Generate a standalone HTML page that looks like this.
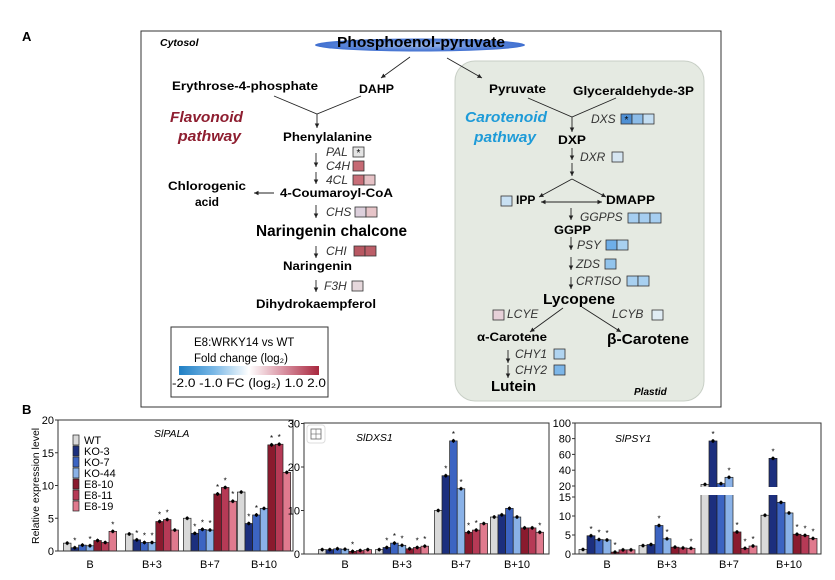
<!DOCTYPE html>
<html><head><meta charset="utf-8"><style>
html,body{margin:0;padding:0;background:#fff}
svg{display:block;font-family:"Liberation Sans",Arial,sans-serif}
.b{font-weight:bold}
.i{font-style:italic}
</style></head><body>
<svg id="s" width="835" height="580" viewBox="0 0 835 580" xmlns="http://www.w3.org/2000/svg">
<defs>
<radialGradient id="ell" cx="50%" cy="50%" r="50%"><stop offset="0" stop-color="#9ab8ec"/><stop offset="1" stop-color="#3f6fd0"/></radialGradient>
<linearGradient id="lg" x1="0" x2="1"><stop offset="0" stop-color="#1f7fc4"/><stop offset="0.25" stop-color="#7ab8e6"/><stop offset="0.5" stop-color="#ffffff"/><stop offset="0.75" stop-color="#d890a0"/><stop offset="1" stop-color="#a8283e"/></linearGradient>
<marker id="ar" markerWidth="6" markerHeight="6" refX="5" refY="3" orient="auto"><path d="M0,0.5 L5,3 L0,5.5 z" fill="#222"/></marker>
<marker id="al" markerWidth="6" markerHeight="6" refX="1" refY="3" orient="auto"><path d="M6,0.5 L1,3 L6,5.5 z" fill="#222"/></marker>
</defs>
<text x="22" y="41" class="b" font-size="13">A</text>
<rect x="141" y="31" width="580" height="376" fill="none" stroke="#333" stroke-width="1"/>
<rect x="455" y="61" width="249" height="340" rx="20" fill="#e5eae2" stroke="#c8cfc6"/>
<text x="160" y="46" class="b i" font-size="10.5">Cytosol</text>
<ellipse cx="420" cy="45" rx="105" ry="6.5" fill="url(#ell)"/>
<text x="337" y="47" class="b" font-size="14.5" textLength="168" lengthAdjust="spacingAndGlyphs">Phosphoenol-pyruvate</text>
<g stroke="#222" stroke-width="0.9" fill="none">
<line x1="410" y1="57" x2="381" y2="78" marker-end="url(#ar)"/>
<line x1="447" y1="58" x2="482" y2="78" marker-end="url(#ar)"/>
<polyline points="274,96 317,114 361,96"/>
<line x1="317" y1="114" x2="317" y2="128" marker-end="url(#ar)"/>
<line x1="316" y1="153" x2="316" y2="167" marker-end="url(#ar)"/>
<line x1="316" y1="172" x2="316" y2="184" marker-end="url(#ar)"/>
<line x1="274" y1="193" x2="254" y2="193" marker-end="url(#ar)"/>
<line x1="316" y1="205" x2="316" y2="218" marker-end="url(#ar)"/>
<line x1="316" y1="246" x2="316" y2="258" marker-end="url(#ar)"/>
<line x1="316" y1="280" x2="316" y2="292" marker-end="url(#ar)"/>
<polyline points="528,98 572,117 616,98"/>
<line x1="572" y1="117" x2="572" y2="132" marker-end="url(#ar)"/>
<line x1="572" y1="148" x2="572" y2="160" marker-end="url(#ar)"/>
<line x1="572" y1="163" x2="572" y2="176" marker-end="url(#ar)"/>
<line x1="572" y1="179" x2="539" y2="197" marker-end="url(#ar)"/>
<line x1="572" y1="179" x2="606" y2="197" marker-end="url(#ar)"/>
<line x1="541" y1="202" x2="602" y2="202" marker-start="url(#al)" marker-end="url(#ar)"/>
<line x1="571" y1="208" x2="571" y2="220" marker-end="url(#ar)"/>
<line x1="571" y1="237" x2="571" y2="250" marker-end="url(#ar)"/>
<line x1="571" y1="257" x2="571" y2="270" marker-end="url(#ar)"/>
<line x1="571" y1="277" x2="571" y2="289" marker-end="url(#ar)"/>
<line x1="563" y1="308" x2="530" y2="332" marker-end="url(#ar)"/>
<line x1="582" y1="307" x2="621" y2="332" marker-end="url(#ar)"/>
<line x1="508" y1="350" x2="508" y2="363" marker-end="url(#ar)"/>
<line x1="508" y1="365" x2="508" y2="378" marker-end="url(#ar)"/>
</g>
<g font-size="12" class="b">
<text x="172" y="90" textLength="146" lengthAdjust="spacingAndGlyphs">Erythrose-4-phosphate</text>
<text x="359" y="93" textLength="35" lengthAdjust="spacingAndGlyphs">DAHP</text>
<text x="283" y="141" textLength="89" lengthAdjust="spacingAndGlyphs">Phenylalanine</text>
<text x="280" y="197" textLength="113" lengthAdjust="spacingAndGlyphs">4-Coumaroyl-CoA</text>
<text x="168" y="190" textLength="78" lengthAdjust="spacingAndGlyphs">Chlorogenic</text>
<text x="195" y="206">acid</text>
<text x="283" y="270" textLength="69" lengthAdjust="spacingAndGlyphs">Naringenin</text>
<text x="256" y="308" textLength="120" lengthAdjust="spacingAndGlyphs">Dihydrokaempferol</text>
<text x="489" y="93" textLength="57" lengthAdjust="spacingAndGlyphs">Pyruvate</text>
<text x="573" y="95" textLength="121" lengthAdjust="spacingAndGlyphs">Glyceraldehyde-3P</text>
<text x="558" y="144" textLength="28" lengthAdjust="spacingAndGlyphs">DXP</text>
<text x="516" y="204">IPP</text>
<text x="606" y="204" textLength="49" lengthAdjust="spacingAndGlyphs">DMAPP</text>
<text x="554" y="234" textLength="37" lengthAdjust="spacingAndGlyphs">GGPP</text>
<text x="477" y="341" textLength="70" lengthAdjust="spacingAndGlyphs">α-Carotene</text>
</g>
<text x="256" y="236" class="b" font-size="15.5" textLength="151" lengthAdjust="spacingAndGlyphs">Naringenin chalcone</text>
<text x="543" y="304" class="b" font-size="14.5" textLength="72" lengthAdjust="spacingAndGlyphs">Lycopene</text>
<text x="607" y="344" class="b" font-size="15" textLength="82" lengthAdjust="spacingAndGlyphs">β-Carotene</text>
<text x="491" y="391" class="b" font-size="14.5" textLength="45" lengthAdjust="spacingAndGlyphs">Lutein</text>
<text x="634" y="395" class="b i" font-size="10">Plastid</text>
<g class="b i" font-size="15">
<text x="170" y="122" fill="#8e1e30" textLength="73" lengthAdjust="spacingAndGlyphs">Flavonoid</text>
<text x="178" y="141" fill="#8e1e30" textLength="63" lengthAdjust="spacingAndGlyphs">pathway</text>
<text x="465" y="122" fill="#1e9bd8" textLength="82" lengthAdjust="spacingAndGlyphs">Carotenoid</text>
<text x="474" y="142" fill="#1e9bd8" textLength="62" lengthAdjust="spacingAndGlyphs">pathway</text>
</g>
<g class="i" font-size="12" fill="#333">
<text x="326" y="156">PAL</text>
<text x="326" y="170">C4H</text>
<text x="326" y="184">4CL</text>
<text x="326" y="216">CHS</text>
<text x="326" y="255">CHI</text>
<text x="324" y="290">F3H</text>
<text x="591" y="123">DXS</text>
<text x="580" y="161">DXR</text>
<text x="580" y="221">GGPPS</text>
<text x="577" y="249">PSY</text>
<text x="576" y="268">ZDS</text>
<text x="576" y="285">CRTISO</text>
<text x="507" y="318">LCYE</text>
<text x="612" y="318">LCYB</text>
<text x="515" y="358">CHY1</text>
<text x="515" y="374">CHY2</text>
</g>
<g stroke="#333" stroke-width="0.8" id="hm"></g>
<rect x="171" y="327" width="157" height="70" fill="#fff" stroke="#333"/>
<text x="194" y="346" font-size="11.5">E8:WRKY14 vs WT</text>
<text x="194" y="362" font-size="11.5">Fold change (log₂)</text>
<rect x="179" y="366" width="140" height="9" fill="url(#lg)"/>
<text x="172" y="387" font-size="11.5" textLength="154" lengthAdjust="spacingAndGlyphs">-2.0 -1.0 FC (log₂) 1.0 2.0</text>

<text x="22" y="414" class="b" font-size="13">B</text>
<text transform="translate(39,544) rotate(-90)" font-size="10.5">Relative expression level</text>
<g id="charts"></g>
<text x="154" y="437" class="i" font-size="10.5">SlPALA</text>
<text x="356" y="441" class="i" font-size="10.5">SlDXS1</text>
<text x="615" y="442" class="i" font-size="10.5">SlPSY1</text>
<g id="leg" font-size="11">
<text x="84" y="444">WT</text><text x="84" y="455">KO-3</text><text x="84" y="466">KO-7</text><text x="84" y="477">KO-44</text><text x="84" y="488">E8-10</text><text x="84" y="499">E8-11</text><text x="84" y="510">E8-19</text>
</g>
<rect x="307" y="425" width="18" height="18" rx="3" fill="#fff" stroke="#ddd"/>
<rect x="311" y="429" width="10" height="10" fill="none" stroke="#666" stroke-width="0.8"/>
<line x1="311" y1="434" x2="321" y2="434" stroke="#666" stroke-width="0.6"/>
<line x1="316" y1="429" x2="316" y2="439" stroke="#666" stroke-width="0.6"/>
</svg>
<script>
var NS="http://www.w3.org/2000/svg",S=document.getElementById('s');
function el(t,a,p){var e=document.createElementNS(NS,t);for(var k in a)e.setAttribute(k,a[k]);(p||S).appendChild(e);return e;}
function tx(x,y,s,a,p){var e=el('text',Object.assign({x:x,y:y,'font-size':10.5},a||{}),p);e.textContent=s;return e;}
var hm=document.getElementById('hm');
function sq(x,y,cols,star){cols.forEach(function(c,i){el('rect',{x:x+i*11,y:y,width:11,height:10,fill:c},hm);});if(star)tx(x+5.5,y+9,'*',{'text-anchor':'middle','font-size':10,stroke:'none'},hm);}
sq(353,147,['#e4e4e4'],1);sq(353,161,['#c66a74']);sq(353,175,['#c86e78','#e6c2c6']);
sq(355,207,['#ddd0dc','#e6c4c8']);sq(354,246,['#b85862','#bc5e68']);sq(352,281,['#e6d8dc']);
sq(621,114,['#4f90d4','#8cbce8','#c4def2'],1);sq(612,152,['#d6e6f2']);sq(501,196,['#c8e0f2']);
sq(628,213,['#a6cef0','#a6cef0','#a6cef0']);sq(606,240,['#6eaee8','#a8d0f0']);sq(605,259,['#92c4ec']);
sq(627,276,['#a8d0f0','#a8d0f0']);sq(493,310,['#e6d0d8']);sq(652,310,['#e0ecf4']);
sq(554,349,['#b0d4f0']);sq(554,365,['#7cb6e8']);
var cols=['#d9d9d9','#1c2f7e','#3c64c2','#8ab2e8','#8a1a2e','#b63a56','#e07a8e'];
var lg=document.getElementById('leg');
cols.forEach(function(c,i){el('rect',{x:73,y:435+i*11,width:6,height:10,fill:c,stroke:'#222','stroke-width':0.7},lg);});
var C=document.getElementById('charts');
var g1=[[1.2,0.5,0.9,0.8,1.6,1.3,3],[2.6,1.7,1.3,1.3,4.5,4.8,3.2],[5,2.7,3.3,3.2,8.7,9.7,7.6],[9,4.2,5.5,6.5,16.2,16.3,12]];
var g2=[[1,1,1.2,1.1,0.6,0.8,1],[1,1.5,2.5,2,1.2,1.5,1.8],[10,18,26,15,5,5.5,7],[8.5,9,10.5,8.5,6,6,5]];
var g3=[[1.2,4.8,3.8,3.7,0.5,1.1,1.1],[2.2,2.5,7.5,4,1.8,1.6,1.5],[22,77,23,31,5.8,1.5,2.1],[10.2,55,13.6,10.8,5.2,4.9,4.1]];
function chart(x0,x1,y0,ytop,map,ticks,centers,data,bw,brk){
 centers.forEach(function(c,gi){data[gi].forEach(function(v,i){var x=c-3.5*bw+i*bw,y=map(v);
  el('rect',{x:x,y:y,width:bw,height:y0-y,fill:cols[i],stroke:'#222','stroke-width':0.7},C);
  el('line',{x1:x+bw/2,x2:x+bw/2,y1:y-2,y2:y+2,stroke:'#000','stroke-width':0.8},C);
  el('circle',{cx:x+bw/2,cy:y,r:1.6,fill:'#000'},C);
  if(i>0&&(v>1.4*data[gi][0]||v<0.7*data[gi][0]))tx(x+bw/2,y-4,'*',{'text-anchor':'middle','font-size':8},C);
 });
 tx(c,568,['B','B+3','B+7','B+10'][gi],{'text-anchor':'middle','font-size':11},C);});
 if(brk){el('rect',{x:x0+1,y:487,width:x1-x0,height:8,fill:'#fff'},C);}
 el('rect',{x:x0,y:ytop,width:x1-x0,height:y0-ytop,fill:'none',stroke:'#333','stroke-width':1},C);
 ticks.forEach(function(t){var y=map(t);el('line',{x1:x0-3,x2:x0,y1:y,y2:y,stroke:'#333'},C);tx(x0-4,y+4,String(t),{'text-anchor':'end','font-size':11},C);});
}
chart(58,293,551,420,function(v){return 551-v*6.55;},[0,5,10,15,20],[90,152,210,264],g1,7.6);
chart(304,549,554,423,function(v){return 554-v*4.35;},[0,10,20,30],[345,402,461,517],g2,7.6);
chart(575,821,554,423,function(v){return v<=15?554-v*3.8:Math.max(423,486-(v-20)*0.79);},[0,5,10,15,20,40,60,80,100],[607,667,729,789],g3,8,true);
</script>
</body></html>
